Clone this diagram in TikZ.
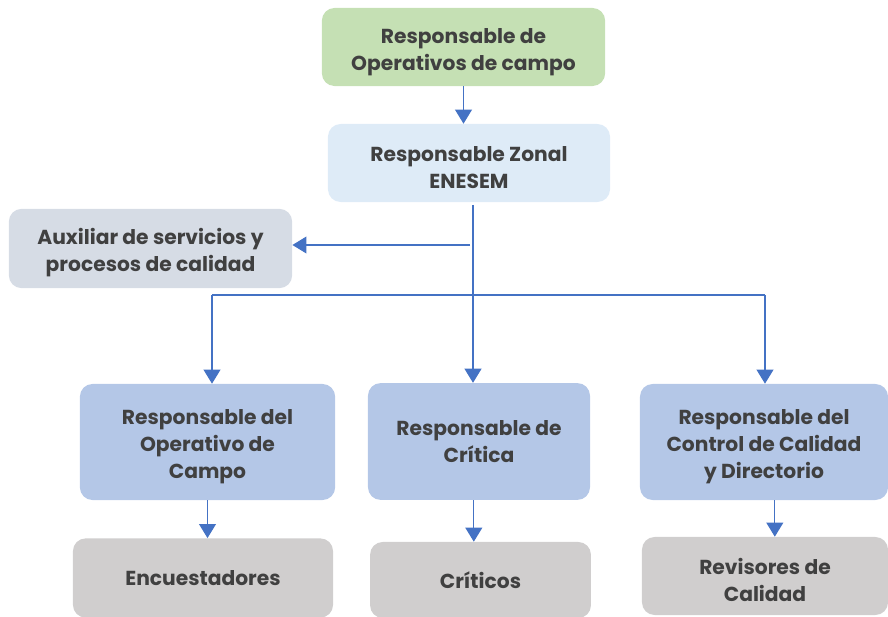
\documentclass[tikz,border=0pt]{standalone}
\usepackage{fontspec}
\setmainfont{Poppins}
\usetikzlibrary{arrows.meta}
\definecolor{verde}{HTML}{C5E0B4}
\definecolor{celeste}{HTML}{DEEBF7}
\definecolor{grisazul}{HTML}{D6DCE5}
\definecolor{azulcaja}{HTML}{B4C7E7}
\definecolor{gris}{HTML}{D0CECE}
\definecolor{texto}{HTML}{404040}
\definecolor{azul}{HTML}{4472C4}
\newcommand{\alto}{\rule{0pt}{17.5pt}}
\tikzset{
  caja/.style={rounded corners=9pt, align=center, text=texto, inner sep=2pt,
    font=\fontsize{14.4}{19.2}\selectfont\bfseries},
  linea/.style={draw=azul, line width=0.8pt},
  flecha/.style={linea, -{Triangle[length=10pt, width=12pt]}}
}
\begin{document}
\begin{tikzpicture}[x=0.025cm, y=-0.025cm]
                \useasboundingbox (0,0) rectangle (888,617);
                % cajas
                \node[caja, fill=verde, minimum width=7.08cm, minimum height=1.95cm] (jefe) at (463.5,47) {\alto Responsable de\\Operativos de campo};
                \node[caja, fill=celeste, minimum width=7.05cm, minimum height=1.95cm] (zonal) at (469,163) {\alto Responsable Zonal\\ENESEM};
                \node[caja, fill=grisazul, minimum width=7.08cm, minimum height=1.98cm] (aux) at (150.5,248.5) {\alto Auxiliar de servicios y\\procesos de calidad};
                \node[caja, fill=azulcaja, minimum width=6.38cm, minimum height=2.9cm] (operativo) at (207.5,442) {\alto Responsable del\\Operativo de\\Campo};
                \node[caja, fill=azulcaja, minimum width=5.55cm, minimum height=2.92cm] (critica) at (479,441.5) {Responsable de\\Crítica};
                \node[caja, fill=azulcaja, minimum width=6.2cm, minimum height=2.9cm] (control) at (764,442) {\alto Responsable del\\Control de Calidad\\y Directorio};
                \node[caja, fill=gris, minimum width=6.5cm, minimum height=1.98cm] (encuestadores) at (203,578) {Encuestadores};
                \node[caja, fill=gris, minimum width=5.52cm, minimum height=1.9cm] (criticos) at (480.5,580) {Críticos};
                \node[caja, fill=gris, minimum width=6.15cm, minimum height=1.95cm] (revisores) at (765,576) {\alto Revisores de\\Calidad};
                % puntos de las lineas
                \coordinate (eje) at (473,205);
                \coordinate (ramal) at (470,245);
                \coordinate (izq) at (212,295);
                \coordinate (der) at (765,295);
                % conectores
                \draw[flecha] (jefe.south) -- (jefe.south |- zonal.north);
                \draw[flecha] (eje) -- (eje |- critica.north);
                \draw[flecha] (ramal) -- (ramal -| aux.east);
                \draw[linea] (izq) -- (der);
                \draw[flecha] (izq) -- (izq |- operativo.north);
                \draw[flecha] (der) -- (der |- control.north);
                \draw[flecha] (operativo.south) -- (operativo.south |- encuestadores.north);
                \draw[flecha] ([xshift=-0.13cm]critica.south) -- ([xshift=-0.13cm]critica.south |- criticos.north);
                \draw[flecha] ([xshift=0.27cm]control.south) -- ([xshift=0.27cm]control.south |- revisores.north);
\end{tikzpicture}
\end{document}
